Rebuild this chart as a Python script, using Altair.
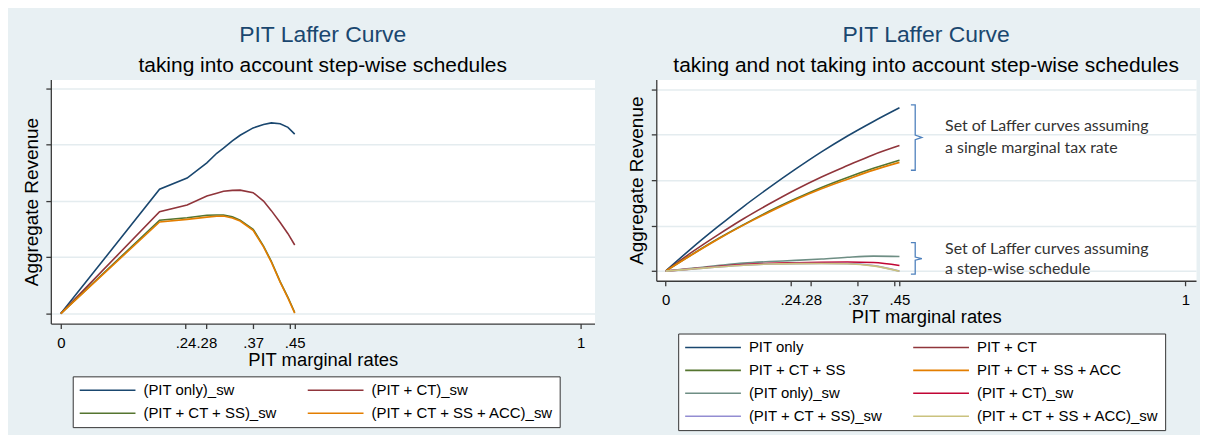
import altair as alt
import pandas as pd

FONT = "Liberation Sans"
ANNOT_FONT = "Lato"
BG = "#E8F0F3"
GRID = "#E4ECEF"
AXIS = "#3A3A3A"

# ---------------- data: left panel (step-wise schedules only) ----------------
left_rates = [0, 0.19, 0.243, 0.281, 0.30, 0.313, 0.33, 0.345, 0.37, 0.39, 0.405, 0.422, 0.437, 0.45]
left_pit_only_sw = [0, 2.21, 2.41, 2.68, 2.85, 2.94, 3.07, 3.17, 3.30, 3.36, 3.39, 3.375, 3.31, 3.19]
left_pit_ct_sw = [0, 1.81, 1.93, 2.09, 2.14, 2.175, 2.19, 2.195, 2.15, 2.00, 1.83, 1.62, 1.42, 1.22]
left_pit_ct_ss_sw = [0, 1.66, 1.705, 1.747, 1.752, 1.753, 1.72, 1.66, 1.50, 1.20, 0.93, 0.57, 0.29, 0.02]
left_pit_ct_ss_acc_sw = [0, 1.63, 1.675, 1.715, 1.73, 1.735, 1.70, 1.645, 1.48, 1.185, 0.915, 0.56, 0.275, 0.01]
left_names = ["(PIT only)_sw", "(PIT + CT)_sw", "(PIT + CT + SS)_sw", "(PIT + CT + SS + ACC)_sw"]
left_colors = ["#1A476F", "#90353B", "#55752F", "#E37E00"]
# legend entries listed column by column so that rows read as in the original
left_legend_order = [0, 2, 1, 3]

# ---------------- data: right panel ----------------
right_rates = [0, 0.05, 0.10, 0.15, 0.20, 0.25, 0.30, 0.35, 0.40, 0.45]
right_pit_only = [0, 0.50, 0.97, 1.42, 1.84, 2.24, 2.62, 2.97, 3.29, 3.59]
right_pit_ct = [0, 0.41, 0.79, 1.15, 1.48, 1.79, 2.07, 2.32, 2.56, 2.76]
right_pit_ct_ss = [0, 0.36, 0.705, 1.02, 1.32, 1.59, 1.84, 2.06, 2.26, 2.44]
right_pit_ct_ss_acc = [0, 0.355, 0.695, 1.01, 1.30, 1.57, 1.81, 2.02, 2.22, 2.39]
right_pit_only_sw = [0, 0.06, 0.12, 0.175, 0.21, 0.235, 0.265, 0.305, 0.33, 0.32]
right_pit_ct_sw = [0, 0.05, 0.10, 0.145, 0.17, 0.185, 0.195, 0.20, 0.19, 0.125]
right_pit_ct_ss_sw = [0, 0.045, 0.09, 0.13, 0.155, 0.165, 0.168, 0.165, 0.12, 0.0]
right_pit_ct_ss_acc_sw = [0, 0.045, 0.09, 0.13, 0.155, 0.165, 0.168, 0.163, 0.115, -0.005]
right_names = ["PIT only", "PIT + CT", "PIT + CT + SS", "PIT + CT + SS + ACC",
               "(PIT only)_sw", "(PIT + CT)_sw", "(PIT + CT + SS)_sw", "(PIT + CT + SS + ACC)_sw"]
right_colors = ["#1A476F", "#90353B", "#55752F", "#E37E00",
                "#6E8E84", "#C10534", "#938DD2", "#CAC27E"]
right_legend_order = [0, 2, 4, 6, 1, 3, 5, 7]

# annotations (right panel)
annot_text = ["Set of Laffer curves assuming", "a single marginal tax rate",
              "Set of Laffer curves assuming", "a step-wise schedule"]
annot_x = [0.5377, 0.5377, 0.5377, 0.5377]
annot_y = [3.18, 2.705, 0.481, 0.044]
bracket_id = [1] * 7 + [2] * 7
bracket_order = list(range(7)) * 2
bracket_x = [0.472, 0.4803, 0.4803, 0.4931, 0.4803, 0.4803, 0.472,
             0.472, 0.4803, 0.4803, 0.4931, 0.4803, 0.4803, 0.472]
bracket_y = [3.654, 3.654, 2.99, 2.939, 2.888, 2.217, 2.217,
             0.626, 0.626, 0.31, 0.276, 0.24, -0.066, -0.066]

x_ticks = [0, 0.24, 0.28, 0.37, 0.44, 0.45, 1]
y_ticks = [0, 1, 2, 3, 4]

# ---------------- tables ----------------
def long_table(rates, series, names):
    rows = []
    for name, vals in zip(names, series):
        for r, v in zip(rates, vals):
            rows.append({"rate": r, "revenue": v, "series": name})
    return pd.DataFrame(rows)

left_df = long_table(left_rates,
                     [left_pit_only_sw, left_pit_ct_sw, left_pit_ct_ss_sw, left_pit_ct_ss_acc_sw],
                     left_names)
right_df = long_table(right_rates,
                      [right_pit_only, right_pit_ct, right_pit_ct_ss, right_pit_ct_ss_acc,
                       right_pit_only_sw, right_pit_ct_sw, right_pit_ct_ss_sw, right_pit_ct_ss_acc_sw],
                      right_names)
annot_df = pd.DataFrame({"x": annot_x, "y": annot_y, "text": annot_text})
bracket_df = pd.DataFrame({"id": bracket_id, "o": bracket_order, "x": bracket_x, "y": bracket_y})

label_expr = ("datum.value == 0 ? '0' : datum.value == 1 ? '1' : "
              "datum.value == 0.44 ? '' : replace(format(datum.value, '.2f'), '0.', '.')")


def x_enc(domain, field="rate"):
    return alt.X(f"{field}:Q", scale=alt.Scale(domain=domain, nice=False, zero=False),
                 axis=alt.Axis(values=x_ticks, labelExpr=label_expr, title="PIT marginal rates",
                               grid=False, labelOverlap=False, labelPadding=7, titlePadding=0,
                               titleFontSize=18.5))


def y_enc(domain, field="revenue"):
    return alt.Y(f"{field}:Q", scale=alt.Scale(domain=domain, nice=False, zero=False),
                 axis=alt.Axis(values=y_ticks, labels=False, title="Aggregate Revenue",
                               grid=True, gridColor=GRID, gridWidth=1.5, titlePadding=4,
                               titleFontSize=19))


def legend(ly, values):
    return alt.Legend(orient="none", legendX=22, legendY=ly, columns=2, title=None,
                      values=values,
                      symbolType="M-4,0H4", symbolSize=196, symbolStrokeWidth=1.6,
                      symbolOffset=21, labelOffset=28, columnPadding=26, rowPadding=7,
                      padding=6, strokeColor="#333333", fillColor="white",
                      labelFont=FONT, labelFontSize=15, labelColor="black", labelLimit=400)


def title(sub):
    return alt.TitleParams("PIT Laffer Curve", subtitle=sub, font=FONT, fontSize=23,
                           fontWeight="normal", color="#1A476F", subtitleFont=FONT,
                           subtitleFontSize=21, subtitleColor="black", subtitlePadding=8,
                           offset=4, anchor="middle")


left_x_dom = [-0.0192, 1.0268]
left_y_dom = [-0.177, 4.159]
right_x_dom = [-0.0178, 1.0205]
right_y_dom = [-0.212, 4.21]

left = alt.Chart(left_df).mark_line(strokeWidth=1.6, clip=True).encode(
    x=x_enc(left_x_dom),
    y=y_enc(left_y_dom),
    color=alt.Color("series:N", scale=alt.Scale(domain=left_names, range=left_colors),
                    sort=left_names,
                    legend=legend(298, [left_names[i] for i in left_legend_order])),
).properties(width=546, height=245, title=title("taking into account step-wise schedules"))

right_lines = alt.Chart(right_df).mark_line(strokeWidth=1.6, interpolate="monotone", clip=True).encode(
    x=x_enc(right_x_dom),
    y=y_enc(right_y_dom),
    color=alt.Color("series:N", scale=alt.Scale(domain=right_names, range=right_colors),
                    sort=right_names,
                    legend=legend(255, [right_names[i] for i in right_legend_order])),
)
right_brackets = alt.Chart(bracket_df).mark_line(strokeWidth=1.3, color="#4F81BD").encode(
    x=alt.X("x:Q", scale=alt.Scale(domain=right_x_dom, nice=False, zero=False)),
    y=alt.Y("y:Q", scale=alt.Scale(domain=right_y_dom, nice=False, zero=False)),
    detail="id:N", order="o:Q",
)
right_text = alt.Chart(annot_df).mark_text(align="left", baseline="middle", font=ANNOT_FONT,
                                           fontSize=16, color="#333333").encode(
    x=alt.X("x:Q", scale=alt.Scale(domain=right_x_dom, nice=False, zero=False)),
    y=alt.Y("y:Q", scale=alt.Scale(domain=right_y_dom, nice=False, zero=False)),
    text="text:N",
)
right = alt.layer(right_lines, right_brackets, right_text).properties(
    width=542, height=202,
    title=title("taking and not taking into account step-wise schedules"))

chart = alt.hconcat(left, right, spacing=31).resolve_scale(color="independent").configure(
    background=BG, padding={"left": 13, "top": 14, "right": 3, "bottom": 3}
).configure_view(fill="white", stroke="transparent").configure_axis(
    domainColor=AXIS, domainWidth=1.3, tickColor=AXIS, tickWidth=1.3, tickSize=5,
    labelFont=FONT, labelFontSize=15, labelColor="black",
    titleFont=FONT, titleFontWeight="normal", titleColor="black",
)

chart.save("out.html", embed_options={"renderer": "svg", "actions": False})
